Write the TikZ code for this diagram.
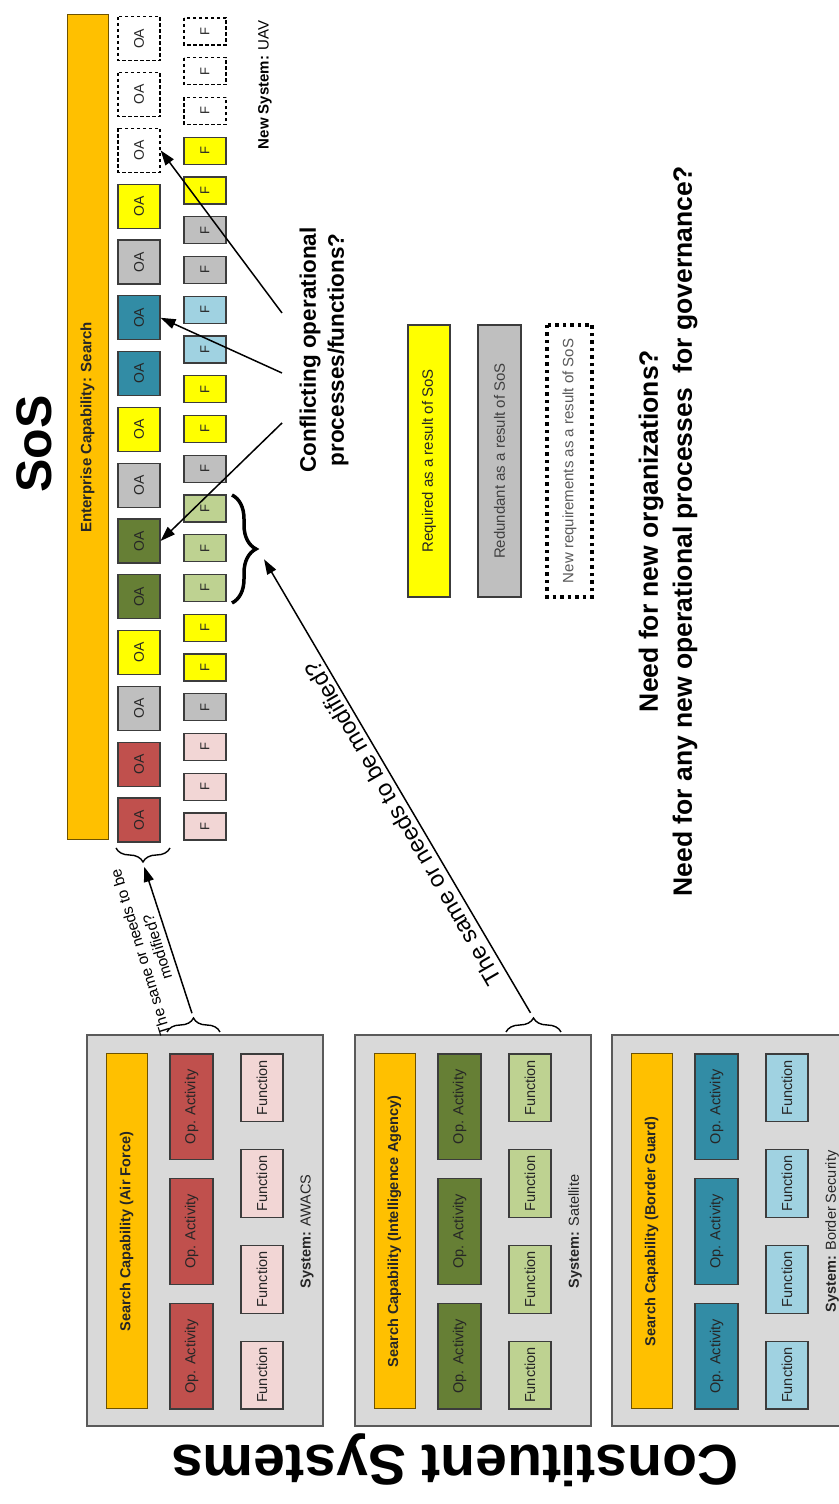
\documentclass[tikz,border=0pt]{standalone}
\usepackage{fontspec}
\setmainfont{Liberation Sans}
\usetikzlibrary{arrows.meta,decorations.pathreplacing,calc}

\newcommand{\fsz}[2]{\fontsize{#1}{#2}\selectfont}

\definecolor{capOrange}{HTML}{FFC000}
\definecolor{capEdge}{HTML}{6E5200}
\definecolor{panelGrey}{HTML}{D9D9D9}
\definecolor{panelEdge}{HTML}{5A5A5A}
\definecolor{oaRed}{HTML}{C0504D}
\definecolor{fPink}{HTML}{F2D6D5}
\definecolor{oaGreen}{HTML}{667F35}
\definecolor{fGreen}{HTML}{BED291}
\definecolor{oaBlue}{HTML}{328CA5}
\definecolor{fBlue}{HTML}{A0D2E1}
\definecolor{reqYellow}{HTML}{FFFF00}
\definecolor{greyBox}{HTML}{BFBFBF}
\definecolor{boxEdge}{HTML}{3C3C3C}

\begin{document}
\begin{tikzpicture}[x=1pt,y=1pt,
  box/.style={draw=boxEdge, line width=1.1pt, inner sep=0pt, text=black!85},
  oabox/.style={box, minimum width=44pt, minimum height=42pt, font=\fsz{14}{16}},
  fnbox/.style={box, minimum width=27pt, minimum height=42pt, font=\fsz{13}{15}},
  newreq/.style={draw=black, fill=white, dash pattern=on 3.5pt off 2.5pt, line width=1.3pt},
  panel/.style={draw=panelEdge, fill=panelGrey, line width=1.2pt, inner sep=0pt,
    minimum width=391pt, minimum height=236pt},
  capbar/.style={draw=capEdge, fill=capOrange, line width=1pt, inner sep=0pt,
    text=black!85, font=\bfseries\fsz{14.5}{17}},
  opbox/.style={box, minimum width=105.7pt, minimum height=43pt, font=\fsz{14.5}{17}},
  funcbox/.style={box, minimum width=67.75pt, minimum height=42pt, font=\fsz{14.5}{17}},
  legendbox/.style={inner sep=0pt, minimum width=272pt, font=\fsz{15}{18}},
  arr/.style={-{Triangle[length=15pt,width=10pt]}, line width=1.5pt},
  curly/.style={decorate, line width=1.4pt},
  question/.style={font=\bfseries\fsz{22.5}{28}, align=center}
]
\useasboundingbox (0,0) rectangle (838,1504);
\fill[white] (0,0) rectangle (838,1504);

% the whole chart is laid out sideways and turned a quarter turn
\begin{scope}[rotate=90, transform shape]

% ---------------- System of Systems ----------------
\node[font=\bfseries\fsz{50}{56}] (sos) at (1060,-34) {SoS};
\node[capbar, minimum width=825pt, minimum height=41pt, font=\bfseries\fsz{15}{18}]
  (ent) at (1076.5,-87.5) {Enterprise Capability: Search};

% operational activities
\foreach \f [count=\j from 0] in {oaRed,oaRed,greyBox,reqYellow,oaGreen,oaGreen,
    greyBox,reqYellow,oaBlue,oaBlue,greyBox,reqYellow}
  \node[oabox, fill=\f] (oa\j) at ({684+55.8*\j},-139) {OA};
\foreach \j in {12,13,14}
  \node[oabox, newreq] (oa\j) at ({684+55.8*\j},-139) {OA};

% functions
\foreach \f [count=\j from 0] in {fPink,fPink,fPink,greyBox,reqYellow,reqYellow,
    fGreen,fGreen,fGreen,greyBox,reqYellow,reqYellow,fBlue,fBlue,greyBox,greyBox,
    reqYellow,reqYellow}
  \node[fnbox, fill=\f] (f\j) at ({677.5+39.75*\j},-205) {F};
\foreach \j in {18,19,20}
  \node[fnbox, newreq] (f\j) at ({677.5+39.75*\j},-205) {F};

\node[anchor=east, font=\fsz{15}{18}] (uav) at (1487,-265) {\textbf{New System:} UAV};

% conflicts
\node[question] (conf) at (1154,-324) {Conflicting operational\\processes/functions?};
\coordinate (cf1) at (1191,-282);
\coordinate (cf2) at (1131,-282);
\coordinate (cf3) at (1081,-282);
\draw[arr] (cf1) -- (oa12.south);
\draw[arr] (cf2) -- (oa9.south);
\draw[arr] (cf3) -- (oa5.south);

% legend
\node[legendbox, draw=boxEdge, line width=1.1pt, fill=reqYellow, minimum height=42pt, text=black!85]
  (lgReq) at (1043,-429) {Required as a result of SoS};
\node[legendbox, draw=boxEdge, line width=1.1pt, fill=greyBox, minimum height=43pt, text=black!75]
  (lgRed) at (1043,-499.5) {Redundant as a result of SoS};
\node[legendbox, draw=black, line width=3.3pt, dash pattern=on 3.5pt off 4pt, minimum height=45pt,
  text=black!65] (lgNew) at (1043,-569.5) {New requirements as a result of SoS};

% governance questions
\node[font=\bfseries\fsz{26.5}{34}, align=center] (gov) at (973,-668)
  {Need for new organizations?\\Need for any new operational processes\ \ for governance?};

% ---------------- Constituent systems ----------------
\node[rotate=90, font=\bfseries\fsz{57}{62}] (cs) at (44,-455) {Constituent Systems};

\foreach \t/\ttl/\sys/\oc/\fc [count=\p from 0] in
  {87/Air Force/AWACS/oaRed/fPink,
   355/Intelligence Agency/Satellite/oaGreen/fGreen,
   612/Border Guard/Border Security/oaBlue/fBlue}{
  \node[panel] (pan\p) at (273.5,{-(\t+118)}) {};
  \node[capbar, minimum width=355pt, minimum height=41pt] (cap\p)
    at (272.5,{-(\t+39.5)}) {Search Capability (\ttl)};
  \foreach \k/\x in {0/147.85,1/272.5,2/397.15}
    \node[opbox, fill=\oc] (op\p\k) at (\x,{-(\t+104.5)}) {Op. Activity};
  \foreach \k/\x in {0/128.875,1/224.625,2/320.375,3/416.125}
    \node[funcbox, fill=\fc] (fn\p\k) at (\x,{-(\t+175)}) {Function};
  \node[font=\fsz{14.5}{17}, text=black!85] (sys\p) at (272.5,{-(\t+220)})
    {\textbf{System:} \sys};
}

% braces grouping the compared elements
\draw[curly, decoration={brace, amplitude=14pt}] (656,-170) -- (656,-116);
\draw[curly, decoration={brace, amplitude=14pt}] (472,-167) -- (472,-220);
\draw[curly, decoration={brace, amplitude=14pt}] (472,-506) -- (472,-561);
\draw[decorate, decoration={brace, amplitude=24pt}, line width=3.5pt] (1009,-232) -- (901,-232);

\coordinate (redTip) at (641,-143);
\coordinate (awTip) at (486,-193.5);
\coordinate (satTip) at (486,-533.5);
\coordinate (lgTip) at (955,-258);

\draw[arr, shorten <=5pt, shorten >=4pt] (awTip) --
  node[pos=0.48, anchor=south, rotate=17, inner sep=6pt, align=center, font=\fsz{15.5}{18}]
  (lblA) {The same or needs to be\\modified?} (redTip);
\draw[arr, shorten <=6pt, shorten >=12pt] (satTip) --
  node[pos=0.43, anchor=south, rotate=30, inner sep=5pt, font=\fsz{23.5}{28}]
  (lblB) {The same or needs to be modified?} (lgTip);

\end{scope}
\end{tikzpicture}
\end{document}
